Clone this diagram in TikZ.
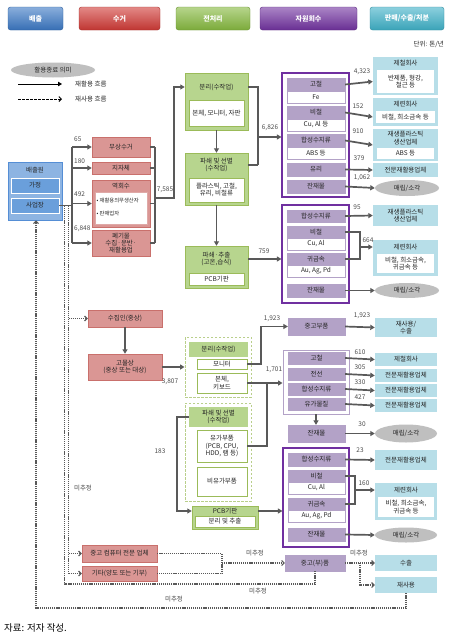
\documentclass[tikz,border=0pt]{standalone}
\usepackage{fontspec}
\setmainfont{Noto Sans CJK KR}
\usetikzlibrary{arrows.meta,shapes.geometric,calc}
\definecolor{cblue}{HTML}{3B78C4}
\definecolor{cred}{HTML}{D03A36}
\definecolor{cgreen}{HTML}{86B93F}
\definecolor{cpurp}{HTML}{7233A0}
\definecolor{cteal}{HTML}{3FB1C8}
\definecolor{rfill}{HTML}{DA9694}
\definecolor{rdraw}{HTML}{C9706C}
\definecolor{gfill}{HTML}{B7D58E}
\definecolor{gdraw}{HTML}{9BBB59}
\definecolor{pfill}{HTML}{B3A2C7}
\definecolor{pdraw}{HTML}{8064A2}
\definecolor{pbox}{HTML}{7030A0}
\definecolor{tfill}{HTML}{B7DEE8}
\definecolor{bfill}{HTML}{8DB4E2}
\definecolor{bdraw}{HTML}{558ED5}
\definecolor{binner}{HTML}{6A9FDB}
\definecolor{arr}{HTML}{595959}
\definecolor{txt}{HTML}{262626}
\definecolor{efill}{HTML}{BFBFBF}
\newcommand\mkbox[7]{\node[#2, minimum width={#5-#3}, minimum height={#6-#4}] (#1) at ({(#3+#5)/2},{(#4+#6)/2}) {#7};}
\tikzset{
 base/.style={font=\fontsize{6.5}{7.3}\selectfont, inner sep=0pt, align=center, text=txt},
 hdr/.style={base, rounded corners=2.5pt, draw=#1!80!black, line width=0.4, top color=#1!60!white, bottom color=#1!92!black, text=white, font=\fontsize{7}{8}\selectfont\bfseries},
 rbox/.style={base, fill=rfill, draw=rdraw, line width=0.4},
 bin/.style={base, fill=binner, draw=white, line width=0.8},
 gouter/.style={fill=gfill, draw=gdraw, line width=0.5},
 gtitle/.style={base, fill=gfill},
 gwhite/.style={base, fill=white, draw=gdraw, line width=0.5},
 gdash/.style={draw=gdraw!70, dash pattern=on 2.5pt off 1.5pt, line width=0.9, fill=white},
 pbar/.style={base, fill=pfill, draw=pdraw!60, line width=0.3},
 pwhite/.style={base, fill=white, draw=pfill, line width=0.4},
 pouter/.style={draw=pbox, line width=1.1},
 plight/.style={draw=pfill, line width=0.9},
 tbox/.style={base, fill=tfill},
 twhite/.style={base, fill=white},
 ell/.style={base, ellipse, fill=efill},
 num/.style={font=\fontsize{6.5}{7}\selectfont, text=arr!85!black, inner sep=0pt},
 flow/.style={draw=arr, line width=1.7, -{Triangle[length=4.5pt,width=5pt]}},
 flowl/.style={draw=arr, line width=1.7},
 dflow/.style={draw=arr, line width=1.1, dash pattern=on 1.2pt off 0.9pt, -{Straight Barb[length=2.5pt,width=5pt]}},
 dflowl/.style={draw=arr, line width=1.1, dash pattern=on 1.2pt off 0.9pt},
}
\begin{document}
\begin{tikzpicture}[x=1pt,y=-1pt]
\fill[white] (0,0) rectangle (452,640);
\useasboundingbox (0,0) rectangle (452,640);
% headers
\mkbox{hb}{hdr=cblue}{8}{7}{63}{30}{배출}
\mkbox{hr}{hdr=cred}{79}{7}{160}{30}{수거}
\mkbox{hg}{hdr=cgreen}{176}{7}{250}{30}{전처리}
\mkbox{hp}{hdr=cpurp}{260}{7}{357}{30}{자원회수}
\mkbox{ht}{hdr=cteal}{370}{7}{444}{30}{판매/수출/처분}
\node[base, anchor=east] (unit) at (444,44) {단위: 톤/년};
% legend
\node[ell, minimum width=84, minimum height=15] (lg) at (53,70) {활용종료 의미};
\coordinate (la1) at (18,84); \coordinate (la2) at (62,84);
\draw[black, line width=0.9, -{Triangle[length=4pt,width=4.5pt]}] (la1) -- (la2);
\node[base, anchor=west] (lt1) at (75,84) {재활용 흐름};
\coordinate (lb1) at (18,99); \coordinate (lb2) at (62,99);
\draw[black, line width=0.9, dash pattern=on 2.5pt off 1.5pt, -{Straight Barb[length=2.5pt,width=5pt]}] (lb1) -- (lb2);
\node[base, anchor=west] (lt2) at (75,99) {재사용 흐름};
% source
\mkbox{src}{fill=bfill, draw=bdraw, line width=0.6}{8}{162}{62}{220}{}
\node[base] (srct) at (35,170) {배출원};
\mkbox{home}{bin}{11}{178}{59}{193}{가정}
\mkbox{biz}{bin}{11}{198}{59}{213}{사업장}
% collection
\mkbox{r1}{rbox}{92}{137}{150}{157}{무상수거}
\mkbox{r2}{rbox}{92}{162}{150}{174}{지자체}
\mkbox{r3}{rbox}{92}{180}{150}{227}{}
\node[base] (r3t) at (121,186) {역회수};
\mkbox{r3w}{fill=white, draw=rdraw!60, line width=0.3}{95}{192}{147}{224}{}
\node[base, font=\fontsize{5.3}{6}\selectfont, anchor=west] (r3a) at (96.5,200) {• 재활용의무생산자};
\node[base, font=\fontsize{5.3}{6}\selectfont, anchor=west] (r3b) at (96.5,214) {• 판매업자};
\mkbox{r4}{rbox}{92}{230}{150}{256}{폐기물\\수집·운반·\\재활용업}
\coordinate (ta) at (72,0);
\draw[flowl] (biz.east) -- (biz.east -| ta);
\draw[flowl] (ta |- r1.west) -- (ta |- r4.west);
\draw[flow] (ta |- r1.west) -- (r1.west);
\draw[flow] (ta |- r2.west) -- (r2.west);
\draw[flow] (ta |- r3.west) -- (r3.west);
\draw[flow] (ta |- r4.west) -- (r4.west);
\node[num, anchor=south west] (n1) at (74,142) {65};
\node[num, anchor=south west] (n2) at (74,164) {180};
\node[num, anchor=south west] (n3) at (74,197) {492};
\node[num, anchor=south west] (n4) at (74,232) {6,848};
% trunk to pretreatment
\coordinate (tb) at (155,0); \coordinate (tc) at (174,0); \coordinate (tj) at (155,198);
\draw[flowl] (r1.east) -- (r1.east -| tb);
\draw[flowl] (r2.east) -- (r2.east -| tb);
\draw[flowl] (r3.east) -- (r3.east -| tb);
\draw[flowl] (r4.east) -- (r4.east -| tb);
\draw[flowl] (tb |- r1.east) -- (tb |- r4.east);
% green top
\mkbox{g1}{gouter}{185}{73}{248}{130}{}
\node[base] (g1t) at (216.5,87) {분리(수작업)};
\mkbox{g1w}{gwhite}{189}{100}{244}{126}{본체, 모니터, 자판}
\mkbox{g2}{gouter}{185}{153}{248}{205}{}
\node[base] (g2t) at (216.5,165) {파쇄 및 선별\\(수작업)};
\mkbox{g2w}{gwhite}{189}{178}{244}{202}{플라스틱, 고철,\\유리, 비철류}
\mkbox{g3}{gouter}{185}{246}{248}{288}{}
\node[base] (g3t) at (216.5,259) {파쇄·추출\\(고온,습식)};
\mkbox{g3w}{gwhite}{189}{273}{244}{285}{PCB기판}
\draw[flow] (tj) -| (tc |- g1t) -- (g1t -| g1.west);
\node[num] (n5) at (165,190) {7,585};
\draw[flow] (g1.south) -- (g2.north);
\draw[flow] (g2.south) -- (g3.north);
% purple box 1
\mkbox{pb1}{pouter}{282}{73}{349}{197}{}
\mkbox{p1a}{pbar}{287}{78}{345}{91}{고철}
\mkbox{p1aw}{pwhite}{287}{91}{345}{103}{Fe}
\mkbox{p1b}{pbar}{287}{106}{345}{119}{비철}
\mkbox{p1bw}{pwhite}{287}{119}{345}{131}{Cu, Al 등}
\mkbox{p1c}{pbar}{287}{134}{345}{147}{합성수지류}
\mkbox{p1cw}{pwhite}{287}{147}{345}{159}{ABS 등}
\mkbox{p1d}{pbar}{287}{163}{345}{176}{유리}
\mkbox{p1e}{pbar}{287}{180}{345}{193}{잔재물}
\coordinate (tdx) at (258,0); \coordinate (td) at (258,137);
\draw[flowl] (g1t -| g1.east) -| (tdx |- g2t);
\draw[flowl] (g2t -| g2.east) -- (tdx |- g2t);
\draw[flow] (td) -- (td -| pb1.west);
\node[num] (n6) at (270,128) {6,826};
% teal 1
\mkbox{t1}{tbox}{373}{57}{438}{95}{}
\node[base] (t1t) at (405.5,63.5) {제철회사};
\mkbox{t1w}{twhite}{377}{70}{434}{93}{반제품, 형강,\\철근 등}
\mkbox{t2}{tbox}{373}{98}{438}{126}{}
\node[base] (t2t) at (405.5,104) {제련회사};
\mkbox{t2w}{twhite}{376}{111}{435}{123}{비철, 희소금속 등}
\mkbox{t3}{tbox}{373}{129}{438}{161}{}
\node[base] (t3t) at (405.5,138) {재생플라스틱\\생산업체};
\mkbox{t3w}{twhite}{377}{148}{434}{159}{ABS 등}
\mkbox{t4}{tbox}{373}{163}{438}{177}{전문재활용업체}
\node[ell, minimum width=64, minimum height=16] (e1) at (407,188) {매립/소각};
\draw[flow] (p1a.east) -- (t1.west |- t1w.center);
\draw[flow] (p1b.east) -- (t2.west |- t2w.center);
\draw[flow] (p1c.east) -- (t3.west);
\draw[flow] (p1d.east) -- (t4.west);
\draw[flow] (p1e.east) -- (e1.west);
\node[num] (n7) at (362,72) {4,323};
\node[num] (n8) at (358,106) {152};
\node[num] (n9) at (358,131) {910};
\node[num] (n10) at (359,158) {379};
\node[num] (n11) at (362,177.5) {1,062};
% purple box 2
\mkbox{pb2}{pouter}{282}{205}{349}{303}{}
\mkbox{p2a}{pbar}{287}{210}{345}{222}{합성수지류}
\mkbox{p2b}{pbar}{287}{226}{345}{238}{비철}
\mkbox{p2bw}{pwhite}{287}{238}{345}{250}{Cu, Al}
\mkbox{p2c}{pbar}{287}{253}{345}{265}{귀금속}
\mkbox{p2cw}{pwhite}{287}{265}{345}{277}{Au, Ag, Pd}
\mkbox{p2d}{pbar}{287}{284}{345}{297}{잔재물}
\draw[flow] (g3t -| g3.east) -- (g3t -| pb2.west);
\node[num] (n12) at (264,251) {759};
\mkbox{t5}{tbox}{373}{205}{438}{226}{재생플라스틱\\생산업체}
\mkbox{t6}{tbox}{373}{240}{438}{276}{}
\node[base] (t6t) at (405.5,247) {제련회사};
\mkbox{t6w}{twhite}{377}{254}{434}{273}{비철, 희소금속,\\귀금속 등}
\node[ell, minimum width=64, minimum height=15] (e2) at (407,290.5) {매립/소각};
\draw[flow] (p2a.east) -- (t5.west);
\coordinate (m2) at (360,0);
\draw[flowl] (p2b.east) -- (m2 |- p2b) -- (m2 |- p2c) -- (p2c.east);
\draw[flow] (m2 |- t6t) -- (t6t -| t6.west);
\draw[flow] (p2d.east) -- (e2.west);
\node[num] (n13) at (357,207) {95};
\node[num] (n14) at (368,240) {664};
% lower collection
\mkbox{r5}{rbox}{88}{310}{162}{327}{수집인(중상)}
\mkbox{r6}{rbox}{88}{354}{162}{380}{고물상\\(중상 또는 대상)}
\draw[flow] (r5.south) -- (r6.north);
% dashed green
\mkbox{gd1}{gdash}{185}{337}{251}{397}{}
\mkbox{gd1t}{gtitle}{189}{342}{248}{357}{분리(수작업)}
\mkbox{gd1a}{gwhite}{197}{359}{247}{369}{모니터}
\mkbox{gd1b}{gwhite}{197}{373}{247}{393}{본체,\\키보드}
\mkbox{gd2}{gdash}{185}{403}{251}{501}{}
\mkbox{gd2t}{gtitle}{189}{407}{248}{427}{파쇄 및 선별\\(수작업)}
\mkbox{gd2a}{gwhite}{197}{430}{247}{462}{유가부품\\(PCB, CPU,\\HDD, 램 등)}
\mkbox{gd2b}{gwhite}{197}{467}{247}{496}{비유가부품}
\mkbox{pcb}{gouter}{192}{506}{258}{529}{}
\node[base] (pcbt) at (225,511) {PCB기판};
\mkbox{pcbw}{gwhite}{195}{516}{255}{527}{분리 및 추출}
\draw[flow] (r6.east) -- (r6.east -| gd1.west);
\node[num] (n15) at (170,382) {3,807};
\coordinate (lx) at (177,0);
\draw[flow] (gd2t.west) -- (lx |- gd2t) -- (lx |- pcbt) -- (pcbt -| pcb.west);
\node[num] (n16) at (160,451) {183};
% purple 3
\mkbox{p3u}{pbar}{288}{318}{345}{335}{중고부품}
\mkbox{t11}{tbox}{375}{318}{437}{337}{재사용/\\수출}
\draw[flow] (p3u.east) -- (t11.west);
\node[num] (n17) at (362,316) {1,923};
\mkbox{pb3}{plight}{283}{350}{349}{414}{}
\mkbox{p3a}{pbar}{288}{352}{345}{364}{고철}
\mkbox{p3b}{pbar}{288}{368}{345}{380}{전선}
\mkbox{p3c}{pbar}{288}{383}{345}{395}{합성수지류}
\mkbox{p3d}{pbar}{288}{398}{345}{410}{유가물질}
\mkbox{t7}{tbox}{375}{353}{437}{366}{제철회사}
\mkbox{t8}{tbox}{375}{369}{437}{382}{전문재활용업체}
\mkbox{t9}{tbox}{375}{384}{437}{397}{전문재활용업체}
\mkbox{t10}{tbox}{375}{399}{437}{412}{전문재활용업체}
\draw[flow] (p3a.east) -- (t7.west);
\draw[flow] (p3b.east) -- (t8.west);
\draw[flow] (p3c.east) -- (t9.west);
\draw[flow] (p3d.east) -- (t10.west);
\node[num] (n18) at (360,352) {610};
\node[num] (n19) at (360,367) {305};
\node[num] (n20) at (360,382) {330};
\node[num] (n21) at (360,397) {427};
\mkbox{p3e}{pbar}{288}{425}{345}{442}{잔재물}
\draw[flow] (pb3.south) -- (pb3.south |- p3e.north);
\node[ell, minimum width=62, minimum height=18] (e3) at (406,433.5) {매립/소각};
\draw[flow] (p3e.east) -- (e3.west);
\node[num] (n22) at (362,424) {30};
\coordinate (vx1) at (261,0); \coordinate (vx2) at (267,0);
\draw[flow] (gd1a.east) -- (vx1 |- gd1a) -- (vx1 |- p3u) -- (p3u.west);
\draw[flowl] (gd2a.east) -- (vx2 |- gd2a) -- (vx2 |- gd1b);
\draw[flow] (gd1b.east) -- (gd1b.east -| pb3.west);
\node[num] (n23) at (272,319) {1,923};
\node[num] (n24) at (274,370) {1,701};
% purple 4
\mkbox{pb4}{pouter}{283}{448}{349}{547}{}
\mkbox{p4a}{pbar}{288}{453}{345}{466}{합성수지류}
\mkbox{p4b}{pbar}{288}{470}{345}{482}{비철}
\mkbox{p4bw}{pwhite}{288}{482}{345}{494}{Cu, Al}
\mkbox{p4c}{pbar}{288}{498}{345}{510}{귀금속}
\mkbox{p4cw}{pwhite}{288}{510}{345}{522}{Au, Ag, Pd}
\mkbox{p4d}{pbar}{288}{528}{345}{541}{잔재물}
\draw[flow] (pcbt -| pcb.east) -- (pcbt -| pb4.west);
\mkbox{t12}{tbox}{375}{450}{437}{470}{전문재활용업체}
\mkbox{t13}{tbox}{375}{483}{437}{520}{}
\node[base] (t13t) at (406,490) {제련회사};
\mkbox{t13w}{twhite}{378}{497}{434}{517}{비철, 희소금속,\\귀금속 등}
\node[ell, minimum width=62, minimum height=15] (e4) at (406,535) {매립/소각};
\coordinate (m4) at (355,0);
\draw[flow] (p4a.east) -- (t12.west);
\draw[flowl] (p4b.east) -- (m4 |- p4b) -- (m4 |- p4c) -- (p4c.east);
\draw[flow] (m4 |- t13t) -- (t13t -| t13.west);
\draw[flow] (p4d.east) -- (e4.west);
\node[num] (n25) at (360,450) {23};
\node[num] (n26) at (364,483) {160};
% bottom reuse
\mkbox{c1}{rbox}{82}{545}{157}{562}{중고 컴퓨터 전문 업체}
\mkbox{c2}{rbox}{82}{566}{157}{581}{기타(양도 또는 기부)}
\mkbox{jg}{pbar}{285}{555}{345}{571}{중고(부)품}
\mkbox{t14}{tbox}{375}{555}{437}{571}{수출}
\mkbox{t15}{tbox}{375}{577}{437}{593}{재사용}
\coordinate (dx) at (222,0);
\draw[dflowl] (c1.east) -- (dx |- c1) -- (dx |- c2) -- (c2.east);
\draw[dflow] (dx |- jg) -- (jg.west);
\node[num] (n27) at (255,553) {미추정};
\draw[dflow] (jg.east) -- (t14.west);
\node[num] (n28) at (359,553) {미추정};
\coordinate (dx2) at (360,0);
\draw[dflow] (dx2 |- jg) -- (dx2 |- t15) -- (t15.west);
\coordinate (yb1) at (0,608); \coordinate (xb1) at (36,0);
\draw[dflow] (t15.south) -- (t15.south |- yb1) -- (xb1 |- yb1) -- (xb1 |- src.south);
\node[num] (n29) at (174,599) {미추정};
\coordinate (yb2) at (0,584); \coordinate (xa) at (64.5,0);
\draw[dflowl] (jg.south) -- (jg.south |- yb2) -- (xa |- yb2) -- (xa |- biz);
\node[num] (n30) at (258,591) {미추정};
\coordinate (xb) at (68.5,0);
\draw[dflowl] (xb |- biz) -- (xb |- c2);
\draw[dflow] (xb |- r5) -- (r5.west);
\draw[dflow] (xb |- c1) -- (c1.west);
\draw[dflow] (xb |- c2) -- (c2.west);
\node[num] (n31) at (83,488) {미추정};
% footer
\node[anchor=west, font=\fontsize{9.5}{11}\selectfont, text=black, inner sep=0pt] (foot) at (4,628) {자료: 저자 작성.};
\end{tikzpicture}
\end{document}
